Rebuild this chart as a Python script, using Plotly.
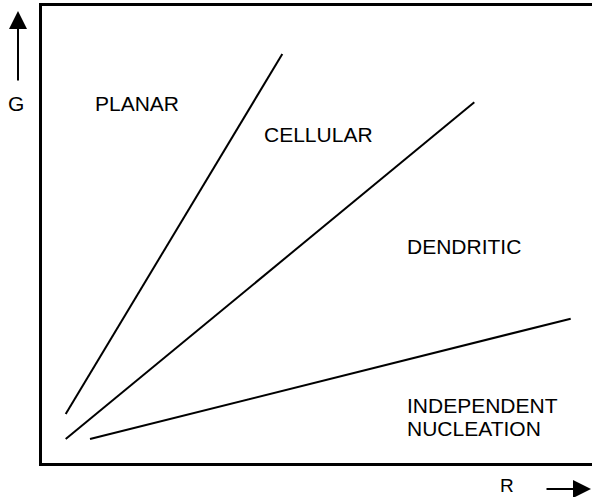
import plotly.graph_objects as go

# Boundary lines (x = R, y = G), in plot units (box is 550 x 457)
line_names = ["planar/cellular", "cellular/dendritic", "dendritic/independent"]
line_x = [[23.7, 240.3], [23.7, 432.3], [48.0, 528.7]]
line_y = [[49.0, 409.0], [24.0, 360.7], [24.0, 144.3]]

# Region labels
region_labels = ["PLANAR", "CELLULAR", "DENDRITIC", "INDEPENDENT", "NUCLEATION"]
label_x = [51, 220, 363, 363, 363]
label_y = [360, 329, 217, 58, 35]

axis_labels = ["G", "R"]

W, H = 550, 457
L, T, B = 42, 6, 34

fig = go.Figure()
for name, xs, ys in zip(line_names, line_x, line_y):
    fig.add_trace(go.Scatter(x=xs, y=ys, mode="lines", name=name,
                             line=dict(color="black", width=2),
                             hoverinfo="skip", showlegend=False))

font = dict(family="Liberation Sans, Arial, sans-serif", size=21, color="black")
small = dict(family="Liberation Sans, Arial, sans-serif", size=19, color="black")
ann = []
for t, x, y in zip(region_labels, label_x, label_y):
    ann.append(dict(x=x, y=y, xref="x", yref="y", text=t, showarrow=False,
                    xanchor="left", yanchor="middle", font=font))

# Axis labels outside the box
ann.append(dict(x=(16 - L) / W, y=(463 - 104) / H, xref="paper", yref="paper",
                text=axis_labels[0], showarrow=False, xanchor="center",
                yanchor="middle", font=font))
ann.append(dict(x=(507 - L) / W, y=(463 - 485) / H, xref="paper", yref="paper",
                text=axis_labels[1], showarrow=False, xanchor="center",
                yanchor="middle", font=small, borderpad=0))
# Arrows
ann.append(dict(x=(18 - L) / W, y=(463 - 11) / H, xref="paper", yref="paper",
                text="", showarrow=True, ax=0, ay=71, axref="pixel", ayref="pixel",
                arrowhead=2, arrowsize=1.8, arrowwidth=2, arrowcolor="black",
                standoff=0))
ann.append(dict(x=(591 - L) / W, y=(463 - 489) / H, xref="paper", yref="paper",
                text="", showarrow=True, ax=-46, ay=0, axref="pixel", ayref="pixel",
                arrowhead=2, arrowsize=1.8, arrowwidth=2, arrowcolor="black",
                standoff=0))

fig.update_layout(
    width=592, height=497,
    margin=dict(l=L, r=0, t=T, b=B),
    paper_bgcolor="white", plot_bgcolor="white",
    xaxis=dict(range=[0, W], showgrid=False, zeroline=False, showticklabels=False,
               ticks="", showline=True, linecolor="black", linewidth=2.5,
               mirror=True, fixedrange=True),
    yaxis=dict(range=[0, H], showgrid=False, zeroline=False, showticklabels=False,
               ticks="", showline=True, linecolor="black", linewidth=2.5,
               mirror=False, fixedrange=True),
    annotations=ann,
    showlegend=False,
)

fig.write_html("out.html", config={"displayModeBar": False},
               post_script="document.body.style.margin='0';document.body.style.padding='0';document.body.style.overflow='hidden';")
